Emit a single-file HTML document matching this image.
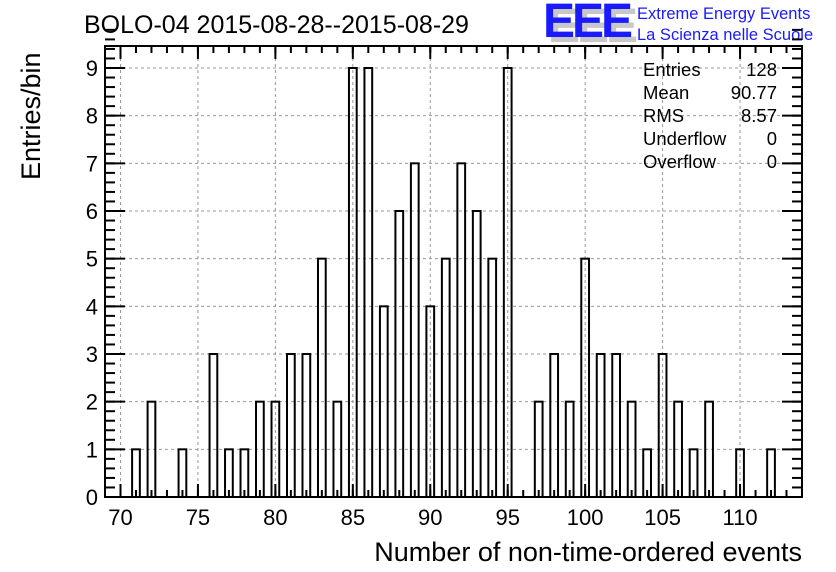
<!DOCTYPE html>
<html><head><meta charset="utf-8"><style>
body{margin:0;background:#fff;}
svg{display:block;font-family:"Liberation Sans",sans-serif;}
</style></head><body>
<svg id="c" width="836" height="572">
<text x="84" y="33" font-size="25">BOLO-04 2015-08-28--2015-08-29</text>
<g>
<text x="548" y="42" font-size="48" font-weight="bold" fill="#c8c8c8" letter-spacing="-3">EEE</text>
<text x="543" y="37" font-size="48" font-weight="bold" fill="#1a1aff" letter-spacing="-3">EEE</text>
<text x="637" y="19" font-size="16.5" fill="#1a1aff">Extreme Energy Events</text>
<text x="637" y="40" font-size="16.5" fill="#1a1aff">La Scienza nelle Scuole</text>
</g>
<g id="grid"></g>
<g id="bars"></g>
<g id="axes"></g>
<rect x="105" y="46" width="697" height="451" fill="none" stroke="#000" stroke-width="2"/>
<g font-size="18.5">
<text x="643" y="76">Entries</text><text x="777" y="76" text-anchor="end">128</text>
<text x="643" y="99">Mean</text><text x="777" y="99" text-anchor="end">90.77</text>
<text x="643" y="122">RMS</text><text x="777" y="122" text-anchor="end">8.57</text>
<text x="643" y="145">Underflow</text><text x="777" y="145" text-anchor="end">0</text>
<text x="643" y="168">Overflow</text><text x="777" y="168" text-anchor="end">0</text>
</g>
<text x="802" y="561" font-size="27" text-anchor="end">Number of non-time-ordered events</text>
<text transform="translate(40,180) rotate(-90)" font-size="27">Entries/bin</text>
</svg>
<script>
const binCenters=[71,72,74,76,77,78,79,80,81,82,83,84,85,86,87,88,89,90,91,92,93,94,95,97,98,99,100,101,102,103,104,105,106,107,108,110,112];
const counts=[1,2,1,3,1,1,2,2,3,3,5,2,9,9,4,6,7,4,5,7,6,5,9,2,3,2,5,3,3,2,1,3,2,1,2,1,1];
const xTicks=[70,75,80,85,90,95,100,105,110];
const yTicks=[0,1,2,3,4,5,6,7,8,9];
const NS='http://www.w3.org/2000/svg';
const X0=69,X1=114,PL=105,PR=802,PT=46,PB=497;
const sx=v=>PL+(v-X0)/(X1-X0)*(PR-PL);
const sy=v=>PB-v*(PB-68)/9;
function mk(t,a,p){const e=document.createElementNS(NS,t);for(const k in a)e.setAttribute(k,a[k]);p.appendChild(e);return e;}
const grid=document.getElementById('grid'),bars=document.getElementById('bars'),axes=document.getElementById('axes');
xTicks.forEach(v=>{
 const l=mk('line',{x1:sx(v),x2:sx(v),y1:PT,y2:PB,stroke:'#999','stroke-dasharray':'3,3'},grid);
 
 
 const t=mk('text',{x:sx(v),y:525,'font-size':22,'text-anchor':'middle'},axes);t.textContent=v;
 
 
 mk('line',{x1:sx(v),x2:sx(v),y1:PB,y2:PB-13,stroke:'#000','stroke-width':2},axes);
 mk('line',{x1:sx(v),x2:sx(v),y1:PT,y2:PT+13,stroke:'#000','stroke-width':2},axes);
});
for(let v=X0;v<=X1;v++){
 mk('line',{x1:sx(v),x2:sx(v),y1:PB,y2:PB-7,stroke:'#000','stroke-width':2},axes);
 mk('line',{x1:sx(v),x2:sx(v),y1:PT,y2:PT+7,stroke:'#000','stroke-width':2},axes);
}
yTicks.forEach(v=>{
 if(v>0){const l=mk('line',{x1:PL,x2:PR,y1:sy(v),y2:sy(v),stroke:'#999','stroke-dasharray':'3,3'},grid);
 
 }
 const t=mk('text',{x:98,y:sy(v)+8,'font-size':22,'text-anchor':'end'},axes);t.textContent=v;
 
 
 mk('line',{x1:PL,x2:PL+20,y1:sy(v),y2:sy(v),stroke:'#000','stroke-width':2},axes);
 mk('line',{x1:PR,x2:PR-20,y1:sy(v),y2:sy(v),stroke:'#000','stroke-width':2},axes);
});
for(let v=0;v<=9.8;v+=0.2){
 mk('line',{x1:PL,x2:PL+10,y1:sy(v),y2:sy(v),stroke:'#000','stroke-width':2},axes);
 mk('line',{x1:PR,x2:PR-10,y1:sy(v),y2:sy(v),stroke:'#000','stroke-width':2},axes);
}
binCenters.forEach((c,i)=>{
 const x=sx(c-0.25),w=sx(c+0.25)-x;
 const r=mk('rect',{x:x,y:sy(counts[i]),width:w,height:PB-sy(counts[i]),fill:'none',stroke:'#000','stroke-width':2},bars);
 
 
});
</script>
</body></html>
